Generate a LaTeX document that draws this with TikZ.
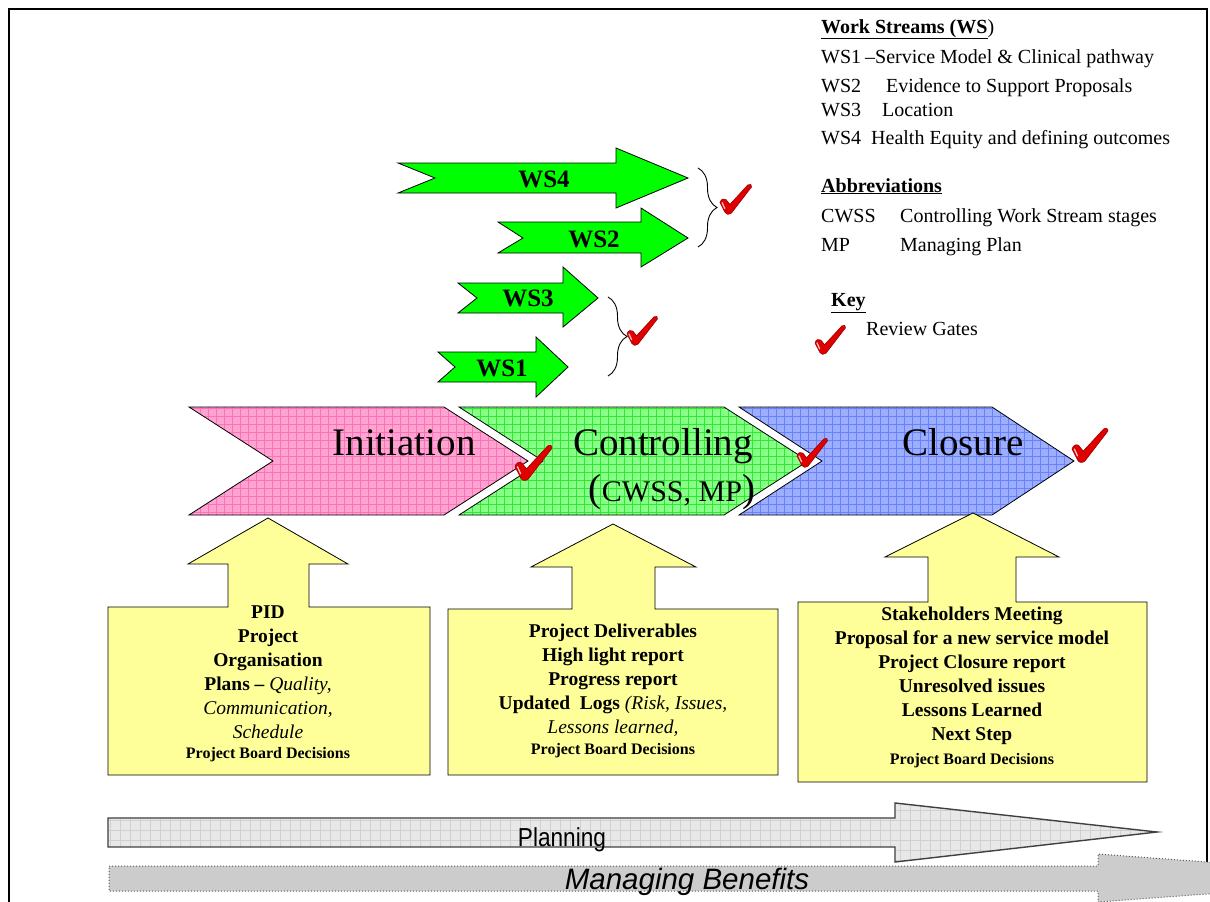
\documentclass[tikz,border=0pt]{standalone}
\usepackage{fontspec}
\setmainfont{Liberation Serif}
\setsansfont{Liberation Sans}
\usetikzlibrary{decorations.pathreplacing}
\newcommand{\myfs}[2]{\fontsize{#1pt}{#2pt}\selectfont}
\definecolor{pinkbase}{HTML}{FFA3D1}
\definecolor{pinkline}{HTML}{FF70BA}
\definecolor{greenbase}{HTML}{88FF88}
\definecolor{greenline}{HTML}{30E830}
\definecolor{bluebase}{HTML}{9DAEFF}
\definecolor{blueline}{HTML}{6682FF}
\definecolor{wsgreen}{HTML}{00FF00}
\definecolor{boxyellow}{HTML}{FFFF99}
\definecolor{plangray}{HTML}{E8E8E8}
\definecolor{plangrid}{HTML}{D0D0D0}
\definecolor{mangray}{HTML}{CCCCCC}
\definecolor{chkred}{HTML}{E00000}
\definecolor{chkdark}{HTML}{990000}
\newcommand{\chevpath}[4]{(#1,407) -- (#2,407) -- (#3,461) -- (#2,515) -- (#1,515) -- (#4,461) -- cycle}
\newcommand{\wspath}[9]{(#1,#5) -- (#3,#5) -- (#3,#7) -- (#4,#9) -- (#3,#8) -- (#3,#6) -- (#1,#6) -- (#2,#9) -- cycle}
\tikzset{
  outline/.style={draw=black, line width=0.8pt},
  lgd/.style={anchor=base west, inner sep=0pt, font=\myfs{20}{24}},
  phase/.style={anchor=base, inner sep=0pt, font=\myfs{39}{44}},
  wslabel/.style={anchor=center, inner sep=0pt, font=\bfseries\myfs{25}{28}},
  boxtext/.style={align=center, inner sep=0pt, font=\bfseries\myfs{19.5}{24}},
  wsarrow/.style={fill=wsgreen, draw=black, line width=0.8pt},
  yarrow/.style={fill=boxyellow, draw=black, line width=0.8pt},
  bracestyle/.style={draw=black, line width=0.9pt, decorate},
  gridline/.style={line width=0.45pt, step=8pt},
  chk/.pic={
    \fill[chkred, draw=chkdark, line width=0.6pt]
      (0,0.62) .. controls (0.03,0.5) and (0.14,0.46) .. (0.2,0.52)
      -- (0.33,0.68) -- (0.93,0.03)
      .. controls (1.0,-0.02) and (1.08,0.02) .. (1.05,0.1)
      -- (0.38,0.97) .. controls (0.32,1.03) and (0.2,1.03) .. (0.17,0.95) -- cycle;
    \draw[white, line width=1.3pt, line cap=round, opacity=0.75] (0.07,0.62) -- (0.16,0.82);
  }
}
\begin{document}
\begin{tikzpicture}[x=1pt,y=-1pt]
\useasboundingbox (0,0) rectangle (1210,902);
\fill[white] (0,0) rectangle (1210,902);

% frame
\draw[line width=2pt] (9,902) -- (9,9) -- (1207,9) -- (1207,862);

% ---------- legend ----------
\node[lgd] (lh1) at (821,33) {\underline{\textbf{Work Streams (WS}})};
\node[lgd] (l1a) at (821,63) {WS1};
\node[lgd] (l1b) at (865,63) {–Service Model \& Clinical pathway};
\node[lgd] (l2a) at (821,92) {WS2};
\node[lgd] (l2b) at (886,92) {Evidence to Support Proposals};
\node[lgd] (l3a) at (821,116) {WS3};
\node[lgd] (l3b) at (882,116) {Location};
\node[lgd] (l4a) at (821,144) {WS4};
\node[lgd] (l4b) at (871,144) {Health Equity and defining outcomes};
\node[lgd] (lh2) at (821,192) {\underline{\textbf{Abbreviations}}};
\node[lgd] (l5a) at (821,222) {CWSS};
\node[lgd] (l5b) at (900,222) {Controlling Work Stream stages};
\node[lgd] (l6a) at (821,251) {MP};
\node[lgd] (l6b) at (900,251) {Managing Plan};
\node[lgd] (lh3) at (831,306) {\underline{\textbf{Key}}};
\node[lgd] (l7) at (866,335) {Review Gates};
\pic[scale=29] at (815,325) {chk};

% ---------- work stream arrows ----------
\draw[wsarrow] \wspath{398}{435}{616}{688}{163}{193}{148}{208}{178};
\node[wslabel] (ws4) at (544,179) {WS4};
\draw[wsarrow] \wspath{498}{523}{641}{688}{222}{253}{208}{267}{238};
\node[wslabel] (ws2) at (594,239) {WS2};
\draw[wsarrow] \wspath{458}{477}{563}{598}{283}{313}{267}{327}{298};
\node[wslabel] (ws3) at (528,298) {WS3};
\draw[wsarrow] \wspath{438}{455}{536}{568}{352}{382}{337}{397}{367};
\node[wslabel] (ws1) at (502,368) {WS1};

% braces
\coordinate (b1s) at (698,168);
\coordinate (b1e) at (698,247);
\coordinate (b2s) at (608,297);
\coordinate (b2e) at (608,376);
\draw[bracestyle, decoration={brace, amplitude=19pt}] (b1s) -- (b1e);
\draw[bracestyle, decoration={brace, amplitude=19pt}] (b2s) -- (b2e);
\pic[scale=30] at (720,184) {chk};
\pic[scale=29] at (627,316) {chk};

% ---------- phase chevrons ----------
\begin{scope}
  \clip \chevpath{189}{444}{528}{273};
  \fill[pinkbase] (180,400) rectangle (540,520);
  \draw[pinkline, gridline] (180,400) grid (540,520);
\end{scope}
\draw[outline] \chevpath{189}{444}{528}{273};

\begin{scope}
  \clip \chevpath{459}{724}{808}{543};
  \fill[greenbase] (450,400) rectangle (820,520);
  \draw[greenline, gridline] (450,400) grid (820,520);
\end{scope}
\draw[outline] \chevpath{459}{724}{808}{543};

\begin{scope}
  \clip \chevpath{739}{992}{1074}{822};
  \fill[bluebase] (730,400) rectangle (1080,520);
  \draw[blueline, gridline] (730,400) grid (1080,520);
\end{scope}
\draw[outline] \chevpath{739}{992}{1074}{822};

\node[phase] (init) at (404,455) {Initiation};
\node[phase] (ctrl) at (663,455) {Controlling};
\node[phase] (cwss) at (672,501) {(\myfs{30}{34}CWSS, MP\myfs{39}{44})};
\node[phase] (clos) at (963,455) {Closure};

\pic[scale=35] at (515,445) {chk};
\pic[scale=29] at (797,438) {chk};
\pic[scale=34] at (1072,428) {chk};

% ---------- yellow boxes ----------
\draw[yarrow] (108,775) -- (108,607) -- (228,607) -- (228,564) -- (188,564) -- (268,518)
  -- (348,564) -- (309,564) -- (309,607) -- (430,607) -- (430,775) -- cycle;
\node[boxtext] (box1) at (268,684) {PID\\Project\\Organisation\\Plans – {\mdseries\itshape Quality,}\\
  {\mdseries\itshape Communication,}\\{\mdseries\itshape Schedule}\\[-4pt]{\myfs{16}{20}Project Board Decisions}};

\draw[yarrow] (448,775) -- (448,609) -- (572,609) -- (572,567) -- (531,567) -- (613,524)
  -- (696,567) -- (655,567) -- (655,609) -- (778,609) -- (778,775) -- cycle;
\node[boxtext] (box2) at (613,691) {Project Deliverables\\High light report\\Progress report\\
  Updated\ \ Logs {\mdseries\itshape (Risk, Issues,}\\{\mdseries\itshape Lessons learned,}\\[-3pt]{\myfs{16}{20}Project Board Decisions}};

\draw[yarrow] (798,782) -- (798,602) -- (928,602) -- (928,557) -- (885,557) -- (973,513)
  -- (1059,557) -- (1016,557) -- (1016,602) -- (1147,602) -- (1147,782) -- cycle;
\node[boxtext] (box3) at (972,687) {Stakeholders Meeting\\Proposal for a new service model\\Project Closure report\\
  Unresolved issues\\Lessons Learned\\Next Step\\{\myfs{16}{20}Project Board Decisions}};

% ---------- bottom arrows ----------
\begin{scope}
  \clip (108,818) -- (895,818) -- (895,803) -- (1157,832) -- (895,862) -- (895,847) -- (108,847) -- cycle;
  \fill[plangray] (100,800) rectangle (1160,865);
  \draw[plangrid, line width=0.6pt, step=10pt] (100,800) grid (1160,865);
\end{scope}
\draw[draw=black!75, line width=1.4pt] (108,818) -- (895,818) -- (895,803) -- (1157,832) -- (895,862) -- (895,847) -- (108,847) -- cycle;
\node[anchor=base, inner sep=0pt, font=\sffamily\myfs{26}{30}, xscale=0.87] (plan) at (562,846) {Planning};

\begin{scope}
  \clip (0,0) rectangle (1210,902);
  \fill[mangray] (109,866) -- (1098,866) -- (1098,854) -- (1425,878) -- (1098,902) -- (1098,891) -- (109,891) -- cycle;
  \draw[black!65, line width=1pt, dotted] (109,866) -- (1098,866) -- (1098,854) -- (1425,878) -- (1098,902) -- (1098,891) -- (109,891) -- cycle;
\end{scope}
\node[anchor=base, inner sep=0pt, font=\sffamily\itshape\myfs{29.5}{34}] (manb) at (687,889) {Managing Benefits};
\end{tikzpicture}
\end{document}
